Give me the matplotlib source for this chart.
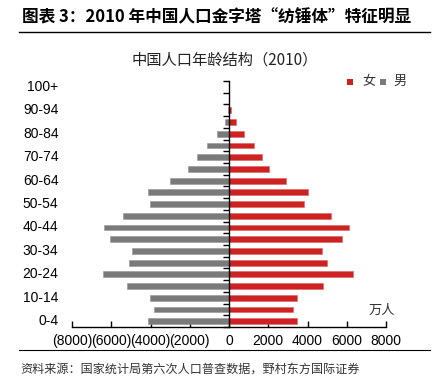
import matplotlib
matplotlib.use("Agg")
import matplotlib.pyplot as plt
from matplotlib.lines import Line2D
from matplotlib.patches import Rectangle
import matplotlib.transforms as mtransforms

plt.rcParams['font.family'] = ['Liberation Sans', 'Noto Sans CJK SC', 'DejaVu Sans']

age_groups = ["0-4", "5-9", "10-14", "15-19", "20-24", "25-29", "30-34", "35-39",
              "40-44", "45-49", "50-54", "55-59", "60-64", "65-69", "70-74", "75-79",
              "80-84", "85-89", "90-94", "95-99", "100+"]
female = [3447, 3242, 3464, 4798, 6340, 5018, 4762, 5763, 6115, 5182, 3839, 4023,
          2883, 2036, 1657, 1257, 746, 343, 105, 25, 3]
male = [4106, 3846, 4027, 5190, 6401, 5084, 4952, 6039, 6361, 5378, 4036, 4108,
        2983, 2075, 1640, 1128, 592, 220, 53, 12, 1]
xticks = [-8000, -6000, -4000, -2000, 0, 2000, 4000, 6000, 8000]
xticklabels = ["(8000)", "(6000)", "(4000)", "(2000)", "0", "2000", "4000", "6000", "8000"]

red = "#CC2222"
gray = "#7A7A7A"

W, H = 437, 386
fig = plt.figure(figsize=(W / 100, H / 100), dpi=100)

ax = fig.add_axes([72 / W, 1 - 327 / H, (386 - 72) / W, (327 - 81) / H])
y = list(range(len(age_groups)))
ax.barh(y, female, height=0.5, color=red, edgecolor="#E06060", linewidth=0.4, zorder=2)
ax.barh(y, [-m for m in male], height=0.5, color=gray, edgecolor="#959595", linewidth=0.4, zorder=2)

ax.set_xlim(-8000, 8000)
ax.set_ylim(-0.5, len(age_groups) - 0.5)

for s in ["top", "right"]:
    ax.spines[s].set_visible(False)
ax.spines["left"].set_position(("data", 0))
ax.spines["left"].set_zorder(3)
ax.spines["left"].set_linewidth(1.0)
ax.spines["bottom"].set_linewidth(1.0)

ax.set_yticks([k - 0.5 for k in range(len(age_groups) + 1)])
ax.set_yticklabels([])
ax.tick_params(axis="y", direction="out", length=4, width=1)

ax.set_xticks(xticks)
ax.set_xticklabels(xticklabels, fontsize=10)
ax.tick_params(axis="x", direction="in", length=4, width=1, pad=5)

trans = mtransforms.blended_transform_factory(fig.transFigure, ax.transData)
for i, lab in enumerate(age_groups):
    if i % 2 == 0:
        ax.text(58.5 / W, i, lab, transform=trans, ha="right", va="center", fontsize=10)

# legend
fig.patches.append(Rectangle((347 / W, 1 - 85 / H), 6 / W, 6 / H, transform=fig.transFigure,
                             facecolor=red, edgecolor="none"))
fig.text(362 / W, 1 - 81.5 / H, "女", ha="left", va="center", fontsize=9.5,
         family=['Noto Sans CJK SC'], color="#333333")
fig.patches.append(Rectangle((380 / W, 1 - 85 / H), 6 / W, 6 / H, transform=fig.transFigure,
                             facecolor=gray, edgecolor="none"))
fig.text(393 / W, 1 - 81.5 / H, "男", ha="left", va="center", fontsize=9.5,
         family=['Noto Sans CJK SC'], color="#333333")

fig.text(382 / W, 1 - 310 / H, "万人", ha="center", va="center", fontsize=9.5,
         family=['Noto Sans CJK SC'], color="#333333")

# titles
fig.text(22 / W, 1 - 17 / H, "图表 3：2010 年中国人口金字塔“纺锤体”特征明显", ha="left", va="center",
         fontsize=12, fontweight="bold", family=['Noto Sans CJK SC', 'DejaVu Sans'])
fig.add_artist(Line2D([19 / W, 430 / W], [1 - 31.5 / H, 1 - 31.5 / H], color="black", lw=1.0))
fig.text(225 / W, 1 - 60 / H, "中国人口年龄结构（2010）", ha="center", va="center",
         fontsize=11, family=['Noto Sans CJK SC'], color="#222222")

fig.add_artist(Line2D([19 / W, 430 / W], [1 - 350 / H, 1 - 350 / H], color="black", lw=0.8))
fig.text(20 / W, 1 - 369 / H, "资料来源：国家统计局第六次人口普查数据，野村东方国际证券", ha="left", va="center",
         fontsize=8.7, family=['Noto Sans CJK SC'], color="#333333")

fig.savefig("out.png", dpi=100)
